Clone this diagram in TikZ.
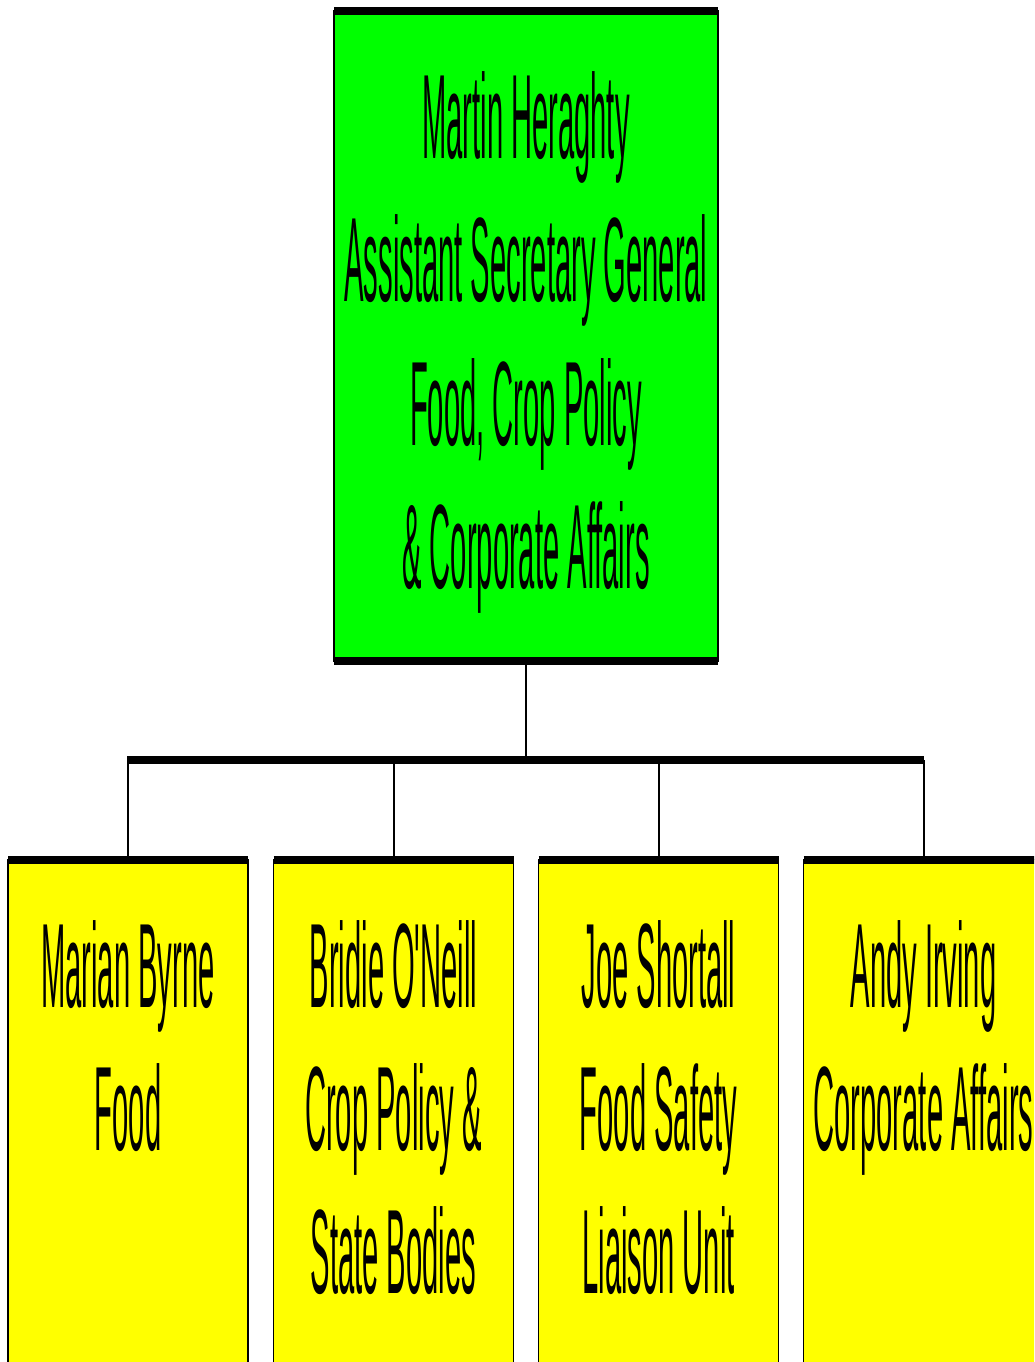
\documentclass[tikz,border=0pt]{standalone}
\usepackage{fontspec}
\newfontfamily\orgfont[FakeStretch=0.243]{Liberation Sans}
\definecolor{headgreen}{RGB}{0,255,0}
\definecolor{unityellow}{RGB}{255,255,0}
\begin{document}
\begin{tikzpicture}[x=1pt,y=-1pt,
  headbox/.style={rectangle, draw=black, line width=1.5pt, fill=headgreen,
    minimum width=384pt, minimum height=650pt, inner sep=0pt, outer sep=0pt},
  unitbox/.style={rectangle, draw=black, line width=1.5pt, fill=unityellow,
    minimum width=240pt, minimum height=506pt, inner sep=0pt, outer sep=0pt},
  heavyrule/.style={line width=8pt, line cap=butt},
  link/.style={line width=2pt},
  boxtext/.style={font=\orgfont\fontsize{120}{143}\selectfont, anchor=base,
    inner sep=0pt, text=black}]
\useasboundingbox (0,0) rectangle (1034,1362);
\clip (0,0) rectangle (1034,1362);

% head of division
\node[headbox] (head) at (526,335.75) {};
\draw[heavyrule] (head.north west) -- (head.north east);
\draw[heavyrule] (head.south west) -- (head.south east);

% units
\node[unitbox] (b1) at (128,1112.5) {};
\node[unitbox] (b2) at (393.5,1112.5) {};
\node[unitbox] (b3) at (658.5,1112.5) {};
\node[unitbox] (b4) at (923.5,1112.5) {};
\foreach \b in {b1,b2,b3,b4}
  \draw[heavyrule] (\b.north west) -- (\b.north east);

% connectors
\coordinate (bus) at (526,760);
\draw[link] (head.south) -- (bus);
\draw[heavyrule] ([xshift=-1pt]b1.north |- bus) -- ([xshift=0pt]b4.north |- bus);
\foreach \b in {b1,b2,b3,b4}
  \draw[link] (\b.north |- bus) -- (\b.north);

% texts
\node[boxtext] (h1) at (526,158) {Martin Heraghty};
\node[boxtext] (h2) at (526,301) {Assistant Secretary General};
\node[boxtext] (h3) at (526,445) {Food, Crop Policy};
\node[boxtext] (h4) at (526,588) {\& Corporate Affairs};

\node[boxtext] (u1a) at (128,1007) {Marian Byrne};
\node[boxtext] (u1b) at (128,1150) {Food};

\node[boxtext] (u2a) at (393.5,1007) {Bridie O'Neill};
\node[boxtext] (u2b) at (393.5,1150) {Crop Policy \&};
\node[boxtext] (u2c) at (393.5,1293) {State Bodies};

\node[boxtext] (u3a) at (658.5,1007) {Joe Shortall};
\node[boxtext] (u3b) at (658.5,1150) {Food Safety};
\node[boxtext] (u3c) at (658.5,1293) {Liaison Unit};

\node[boxtext] (u4a) at (923.5,1007) {Andy Irving};
\node[boxtext] (u4b) at (923.5,1150) {Corporate Affairs};
\end{tikzpicture}
\end{document}
